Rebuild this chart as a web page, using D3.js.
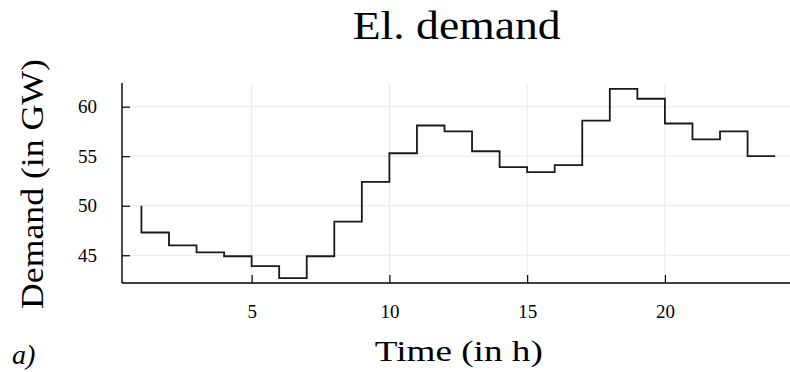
<!DOCTYPE html>
<html>
<head>
<meta charset="utf-8">
<script src="https://cdn.jsdelivr.net/npm/d3@7"></script>
<style>
  html, body { margin: 0; padding: 0; background: #fff; }
  svg { display: block; }
  text { font-family: "Liberation Serif", "Times New Roman", serif; fill: #000; }
</style>
</head>
<body>
<svg id="chart" width="790" height="372"></svg>
<script>
// Hourly electricity demand (GW), drawn as a pre-step line
const hours = d3.range(1, 25);
const demand = [50.0, 47.3, 46.0, 45.3, 44.9, 43.9, 42.7, 44.9, 48.4, 52.4, 55.3, 58.1,
                57.5, 55.5, 53.9, 53.4, 54.1, 58.6, 61.8, 60.8, 58.3, 56.7, 57.5, 55.0];
const xTicks = [5, 10, 15, 20];
const yTicks = [45, 50, 55, 60];

const title = "El. demand";
const xTitle = "Time (in h)";
const yTitle = "Demand (in GW)";
const panelTag = "a)";

const svg = d3.select("#chart");
const plot = { left: 122, right: 790, top: 83, bottom: 283 };

const x = d3.scaleLinear().domain([0.295, 24.54]).range([plot.left, plot.right]);
const y = d3.scaleLinear().domain([42.2, 62.39]).range([plot.bottom, plot.top]);

// grid
const grid = svg.append("g").attr("stroke", "#e9e9e9").attr("stroke-width", 1);
grid.selectAll("line.gx").data(xTicks).join("line")
  .attr("x1", d => x(d)).attr("x2", d => x(d))
  .attr("y1", plot.top).attr("y2", plot.bottom);
grid.selectAll("line.gy").data(yTicks).join("line")
  .attr("x1", plot.left).attr("x2", plot.right)
  .attr("y1", d => y(d)).attr("y2", d => y(d));

// axes with inward ticks
const xAxis = svg.append("g")
  .attr("transform", `translate(0,${plot.bottom})`)
  .call(d3.axisBottom(x).tickValues(xTicks).tickSize(-8).tickPadding(22).tickSizeOuter(0));
const yAxis = svg.append("g")
  .attr("transform", `translate(${plot.left},0)`)
  .call(d3.axisLeft(y).tickValues(yTicks).tickSize(-8).tickPadding(25).tickSizeOuter(0));

[xAxis, yAxis].forEach(g => {
  g.select(".domain").attr("stroke", "#000").attr("stroke-width", 1.4);
  g.selectAll(".tick line").attr("stroke", "#000").attr("stroke-width", 1.2);
  g.selectAll(".tick text")
    .attr("font-family", "Liberation Serif, serif")
    .attr("font-size", 19)
    .attr("fill", "#111");
});
// y axis line reaches the top of the plot box
yAxis.select(".domain").attr("d", `M0,${plot.bottom}V${plot.top}`);
xAxis.select(".domain").attr("d", `M${plot.left},0H${plot.right}`);

// demand step line
const line = d3.line()
  .x((d, i) => x(hours[i]))
  .y(d => y(d))
  .curve(d3.curveStepBefore);
svg.append("path")
  .datum(demand)
  .attr("fill", "none")
  .attr("stroke", "#1a1a1a")
  .attr("stroke-width", 1.8)
  .attr("d", line);

// titles
svg.append("text")
  .attr("x", 456.7).attr("y", 39)
  .attr("text-anchor", "middle")
  .attr("font-size", 40)
  .attr("textLength", 208).attr("lengthAdjust", "spacingAndGlyphs")
  .text(title);

svg.append("text")
  .attr("x", 458.8).attr("y", 360.5)
  .attr("text-anchor", "middle")
  .attr("font-size", 30)
  .attr("textLength", 168).attr("lengthAdjust", "spacingAndGlyphs")
  .text(xTitle);

svg.append("text")
  .attr("transform", `translate(43,${(plot.top + plot.bottom) / 2 + 1}) rotate(-90)`)
  .attr("text-anchor", "middle")
  .attr("font-size", 31)
  .attr("textLength", 250).attr("lengthAdjust", "spacingAndGlyphs")
  .text(yTitle);

svg.append("text")
  .attr("x", 12).attr("y", 364)
  .attr("font-size", 28)
  .attr("font-style", "italic")
  .text(panelTag);
</script>
</body>
</html>
